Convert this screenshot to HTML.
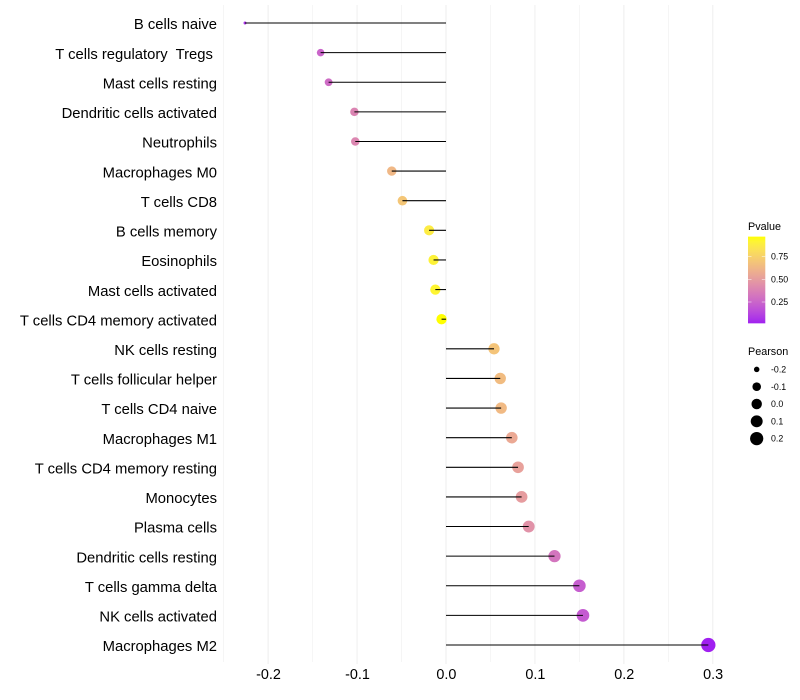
<!DOCTYPE html>
<html>
<head>
<meta charset="utf-8">
<title>Immune cell correlation lollipop chart</title>
<style>
html,body{margin:0;padding:0;background:#fff;width:800px;height:700px;overflow:hidden}
svg{display:block}
text{font-family:"Liberation Sans",Arial,sans-serif;white-space:pre}
</style>
</head>
<body>
<svg id="chart" width="800" height="700" viewBox="0 0 800 700" xmlns="http://www.w3.org/2000/svg"></svg>
<script>
const categories = ["B cells naive","T cells regulatory  Tregs ","Mast cells resting","Dendritic cells activated","Neutrophils","Macrophages M0","T cells CD8","B cells memory","Eosinophils","Mast cells activated","T cells CD4 memory activated","NK cells resting","T cells follicular helper","T cells CD4 naive","Macrophages M1","T cells CD4 memory resting","Monocytes","Plasma cells","Dendritic cells resting","T cells gamma delta","NK cells activated","Macrophages M2"];
const pearsonValues = [-0.226,-0.141,-0.132,-0.103,-0.102,-0.061,-0.049,-0.019,-0.014,-0.012,-0.005,0.054,0.061,0.062,0.074,0.081,0.085,0.093,0.122,0.150,0.154,0.295];
const pValues = [0.06,0.25,0.28,0.39,0.40,0.63,0.70,0.88,0.91,0.92,0.97,0.69,0.65,0.64,0.56,0.52,0.50,0.45,0.32,0.22,0.21,0.015];
const xMajorTicks = [-0.2,-0.1,0.0,0.1,0.2,0.3];
const xMinorTicks = [-0.25,-0.15,-0.05,0.05,0.15,0.25];
const colorTicks = [0.75,0.50,0.25];
const sizeTicks = [-0.2,-0.1,0.0,0.1,0.2];

const svg = document.getElementById('chart');
const NS = 'http://www.w3.org/2000/svg';
function make(tag, attrs, text){
  const el = document.createElementNS(NS, tag);
  for (const k in attrs) el.setAttribute(k, attrs[k]);
  if (text !== undefined) el.textContent = text;
  return el;
}
/* axis functions */
function xScale(v){ return 446 + v * 889.3; }
function yScale(i){ return 23 + i * (645 - 23) / (categories.length - 1); }
function sizeScale(v){
  const lo = Math.min(...pearsonValues), hi = Math.max(...pearsonValues);
  return (3 + 11.3 * Math.sqrt(Math.max(0, (v - lo) / (hi - lo)))) / 2;
}
function colorBarY(p){ return 279.3 - (p - 0.5) * 90.8; }
/* purple to yellow gradient interpolated in Lab space */
function toLin(c){ c /= 255; return c <= 0.04045 ? c / 12.92 : Math.pow((c + 0.055) / 1.055, 2.4); }
function fromLin(c){ const v = c <= 0.0031308 ? 12.92 * c : 1.055 * Math.pow(c, 1 / 2.4) - 0.055; return Math.round(255 * Math.min(1, Math.max(0, v))); }
function rgb2lab(c){
  const r = toLin(c[0]), g = toLin(c[1]), b = toLin(c[2]);
  const X = (0.4124 * r + 0.3576 * g + 0.1805 * b) / 0.95047;
  const Y = 0.2126 * r + 0.7152 * g + 0.0722 * b;
  const Z = (0.0193 * r + 0.1192 * g + 0.9505 * b) / 1.08883;
  const f = t => t > 0.008856 ? Math.cbrt(t) : 7.787 * t + 16 / 116;
  return [116 * f(Y) - 16, 500 * (f(X) - f(Y)), 200 * (f(Y) - f(Z))];
}
function lab2rgb(l){
  const fy = (l[0] + 16) / 116, fx = fy + l[1] / 500, fz = fy - l[2] / 200;
  const g = t => t * t * t > 0.008856 ? t * t * t : (t - 16 / 116) / 7.787;
  const X = g(fx) * 0.95047, Y = g(fy), Z = g(fz) * 1.08883;
  return [
    fromLin(3.2406 * X - 1.5372 * Y - 0.4986 * Z),
    fromLin(-0.9689 * X + 1.8758 * Y + 0.0415 * Z),
    fromLin(0.0557 * X - 0.2040 * Y + 1.0570 * Z)
  ];
}
const labLow = rgb2lab([160, 32, 240]), labHigh = rgb2lab([255, 255, 0]);
const pMin = 0.015, pMax = 0.97;
function colorScale(p){
  const t = Math.max(0, Math.min(1, (p - pMin) / (pMax - pMin)));
  const c = lab2rgb(labLow.map((v, i) => v + (labHigh[i] - v) * t));
  return 'rgb(' + c.join(',') + ')';
}

/* gridlines */
const gridGroup = make('g', {});


svg.appendChild(gridGroup);
xMinorTicks.forEach(v => {
  const l = make('line', {x1: xScale(v), x2: xScale(v), y1: 5, y2: 662, stroke: '#efefef', 'stroke-width': 0.6});
  
  
  gridGroup.appendChild(l);
});
xMajorTicks.forEach(v => {
  const l = make('line', {x1: xScale(v), x2: xScale(v), y1: 5, y2: 664, stroke: '#efefef', 'stroke-width': 1.07});
  
  
  gridGroup.appendChild(l);
});

/* points */
categories.forEach((c, i) => {
  const dot = make('circle', {cx: xScale(pearsonValues[i]), cy: yScale(i), r: sizeScale(pearsonValues[i]), fill: colorScale(pValues[i])});
  
  
  svg.appendChild(dot);
});
/* stems */
categories.forEach((c, i) => {
  const stem = make('line', {x1: xScale(0), x2: xScale(pearsonValues[i]), y1: yScale(i), y2: yScale(i), stroke: '#000', 'stroke-width': 1.07});
  
  
  svg.appendChild(stem);
});
/* category labels */
categories.forEach((c, i) => {
  const t = make('text', {x: 217, y: yScale(i) + 6.2, 'text-anchor': 'end', 'font-size': 14.8, fill: '#000'}, c);
  
  
  svg.appendChild(t);
});
/* x tick labels */
xMajorTicks.forEach(v => {
  const t = make('text', {x: xScale(v) + 0.4, y: 679, 'text-anchor': 'middle', 'font-size': 14.4, fill: '#000'}, v.toFixed(1));
  
  
  svg.appendChild(t);
});

/* colour legend */
const defs = make('defs', {});
const grad = make('linearGradient', {id: 'pGrad', x1: 0, x2: 0, y1: 1, y2: 0});
for (let s = 0; s <= 20; s++) {
  const p = pMin + (pMax - pMin) * s / 20;
  grad.appendChild(make('stop', {offset: (s * 5) + '%', 'stop-color': colorScale(p)}));
}
defs.appendChild(grad);
svg.appendChild(defs);
const pTitle = make('text', {x: 748, y: 230, 'font-size': 10.8, fill: '#000'}, 'Pvalue');


svg.appendChild(pTitle);
const barTop = colorBarY(pMax), barBottom = colorBarY(pMin);
const bar = make('rect', {x: 748, y: barTop, width: 17.3, height: barBottom - barTop, fill: 'url(#pGrad)'});


svg.appendChild(bar);
colorTicks.forEach(p => {
  const y = colorBarY(p);
  const a = make('line', {x1: 748, x2: 751.5, y1: y, y2: y, stroke: '#fff', 'stroke-width': 0.5});
  
  
  svg.appendChild(a);
  const b = make('line', {x1: 761.8, x2: 765.3, y1: y, y2: y, stroke: '#fff', 'stroke-width': 0.5});
  
  
  svg.appendChild(b);
  const t = make('text', {x: 771, y: y + 3.1, 'font-size': 8.8, fill: '#000'}, p.toFixed(2));
  
  
  svg.appendChild(t);
});

/* size legend */
const sTitle = make('text', {x: 748, y: 355, 'font-size': 10.8, fill: '#000'}, 'Pearson');


svg.appendChild(sTitle);
sizeTicks.forEach((v, i) => {
  const y = 369.4 + i * 17.3;
  const c = make('circle', {cx: 756.7, cy: y, r: sizeScale(v), fill: '#000'});
  
  
  svg.appendChild(c);
  const t = make('text', {x: 771, y: y + 3.1, 'font-size': 8.8, fill: '#000'}, v.toFixed(1));
  
  
  svg.appendChild(t);
});
</script>
</body>
</html>
